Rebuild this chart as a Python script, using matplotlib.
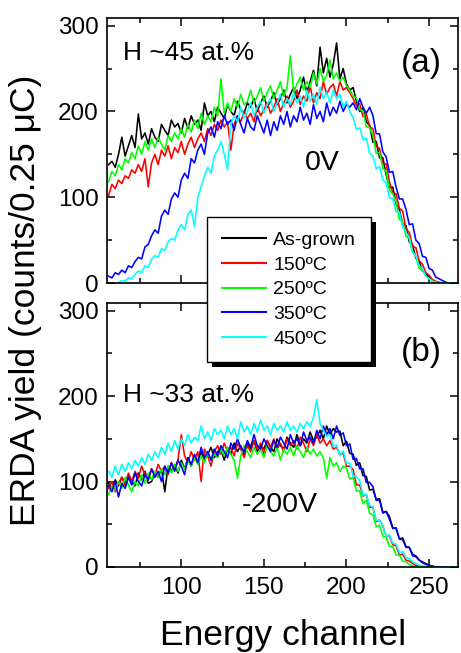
import numpy as np
import matplotlib
matplotlib.use('Agg')
import matplotlib.pyplot as plt
from matplotlib.ticker import MultipleLocator
from matplotlib.patches import Rectangle
from matplotlib.transforms import IdentityTransform

plt.rcParams['font.family'] = ['Liberation Sans', 'DejaVu Sans']

labels = ['As-grown', '150ºC', '250ºC', '350ºC', '450ºC']
colors = ['#000000', '#ff0000', '#00ff00', '#0000ff', '#00ffff']

# panel (a), 0V: counts every 2nd channel, first channel given in start_a
start_a = [56, 56, 56, 56, 62]
a_black = [138, 142, 135, 150, 170, 148, 160, 172, 158, 197, 168, 175, 162, 180, 170, 165, 185, 178, 172, 190,
           182, 186, 175, 192, 180, 195, 185, 190, 178, 210, 195, 200, 188, 205, 198, 192, 208, 200, 195, 212,
           202, 198, 210, 205, 215, 200, 210, 218, 205, 212, 222, 208, 215, 225, 210, 220, 228, 215, 225, 240,
           222, 235, 248, 230, 275, 245, 262, 240, 255, 280, 238, 250, 232, 225, 228, 212, 200, 204, 188, 184,
           164, 165, 146, 146, 126, 111, 112, 92, 86, 68, 67, 48, 44, 29, 25, 14, 11, 6, 3, 1,
           0, 0, 0, 0, 0, 0, 0]
a_150 = [102, 115, 110, 120, 116, 125, 122, 132, 128, 138, 130, 145, 112, 140, 150, 138, 155, 148, 160, 145,
         158, 152, 165, 150, 162, 170, 158, 168, 175, 165, 180, 172, 185, 178, 190, 182, 188, 155, 185, 195,
         188, 200, 192, 198, 188, 205, 195, 202, 210, 198, 205, 215, 200, 210, 218, 205, 212, 225, 208, 218,
         212, 230, 210, 222, 215, 235, 220, 228, 232, 218, 235, 225, 228, 222, 215, 207, 209, 194, 197, 182,
         180, 159, 157, 139, 139, 118, 105, 104, 87, 84, 63, 59, 43, 41, 26, 22, 12, 9, 4, 2,
         1, 0, 0, 0, 0, 0, 0]
a_250 = [118, 130, 125, 138, 132, 145, 140, 152, 145, 160, 150, 165, 155, 168, 158, 170, 162, 155, 172, 165,
         175, 168, 180, 170, 185, 176, 190, 180, 198, 185, 195, 188, 205, 195, 238, 198, 210, 200, 215, 205,
         220, 208, 212, 225, 210, 218, 228, 212, 222, 230, 215, 225, 235, 218, 228, 265, 222, 232, 240, 225,
         235, 228, 245, 232, 250, 235, 242, 260, 238, 245, 235, 240, 230, 225, 218, 216, 202, 201, 182, 181,
         172, 151, 152, 134, 130, 108, 104, 95, 74, 72, 54, 53, 36, 31, 17, 15, 8, 5, 2, 1,
         0, 0, 0, 0, 0, 0, 0]
a_350 = [8, 6, 12, 10, 15, 12, 20, 18, 25, 30, 28, 42, 45, 55, 62, 58, 78, 85, 80, 98,
         105, 100, 120, 128, 122, 145, 140, 155, 162, 150, 175, 182, 170, 188, 180, 195, 185, 190, 178, 195,
         185, 175, 192, 182, 178, 195, 185, 175, 190, 172, 188, 178, 195, 185, 200, 182, 195, 188, 205, 190,
         198, 185, 208, 192, 200, 188, 210, 195, 205, 198, 212, 200, 208, 205, 210, 202, 215, 205, 198, 205,
         195, 174, 174, 153, 147, 129, 130, 112, 98, 98, 86, 68, 69, 50, 46, 31, 30, 17, 15, 7,
         5, 3, 1, 0, 0, 0, 0]
a_450 = [0, 3, 2, 6, 5, 10, 14, 12, 20, 18, 28, 32, 30, 40, 38, 48, 52, 50, 62, 68,
         62, 80, 85, 66, 100, 112, 125, 135, 128, 148, 155, 165, 150, 132, 185, 195, 188, 205, 192, 200,
         210, 195, 205, 212, 198, 208, 215, 200, 210, 220, 205, 215, 208, 222, 210, 218, 205, 225, 212, 220,
         208, 228, 215, 222, 210, 225, 215, 220, 205, 212, 200, 193, 179, 181, 167, 169, 151, 148, 133, 136,
         120, 117, 99, 99, 83, 83, 65, 60, 52, 36, 32, 20, 17, 8, 5, 2, 1, 0, 0, 0,
         0, 0, 0, 0]

# panel (b), -200V
start_b = [56, 56, 56, 56, 56]
b_black = [98, 92, 102, 95, 105, 98, 108, 100, 95, 110, 102, 112, 98, 100, 110, 105, 115, 88, 118, 112,
           120, 110, 125, 115, 128, 118, 130, 122, 135, 125, 132, 140, 128, 135, 138, 125, 140, 132, 145, 135,
           142, 130, 145, 138, 148, 135, 142, 138, 148, 140, 135, 150, 142, 138, 152, 145, 140, 155, 142, 150,
           145, 158, 148, 152, 160, 150, 165, 155, 162, 158, 159, 142, 147, 133, 132, 119, 122, 107, 106, 90,
           91, 79, 80, 64, 65, 59, 46, 45, 33, 34, 24, 23, 15, 13, 8, 6, 4, 2, 1, 0,
           0, 0, 0, 0, 0, 0, 0]
b_150 = [92, 100, 88, 98, 105, 95, 110, 100, 112, 104, 118, 108, 102, 115, 108, 120, 112, 118, 108, 122,
         115, 125, 155, 130, 122, 135, 125, 135, 100, 138, 130, 118, 135, 142, 132, 145, 135, 140, 130, 145,
         138, 128, 142, 135, 148, 138, 145, 132, 148, 140, 150, 138, 145, 135, 150, 142, 148, 138, 152, 145,
         135, 150, 142, 155, 145, 150, 142, 148, 138, 140, 132, 133, 118, 118, 114, 96, 96, 83, 85, 70,
         70, 53, 55, 48, 36, 37, 26, 25, 14, 15, 8, 7, 4, 2, 1, 0, 0, 0, 0, 0,
         0, 0, 0, 0, 0, 0, 0]
b_250 = [85, 95, 90, 100, 92, 105, 96, 88, 100, 95, 108, 98, 110, 102, 112, 105, 115, 108, 118, 110,
         120, 112, 122, 115, 125, 118, 128, 120, 130, 122, 135, 125, 132, 128, 138, 130, 140, 132, 125, 104,
         130, 142, 135, 128, 140, 132, 138, 128, 142, 135, 130, 140, 125, 138, 132, 140, 130, 142, 135, 128,
         140, 132, 138, 130, 135, 128, 104, 128, 118, 122, 112, 118, 116, 103, 105, 89, 89, 74, 78, 63,
         61, 47, 49, 36, 35, 24, 24, 14, 14, 7, 6, 3, 1, 0, 0, 0, 0, 0, 0, 0,
         0, 0, 0, 0, 0, 0, 0]
b_350 = [95, 88, 100, 82, 98, 92, 105, 96, 110, 100, 95, 108, 102, 115, 105, 112, 100, 118, 110, 122,
         112, 125, 118, 108, 128, 120, 132, 122, 140, 128, 135, 125, 138, 130, 142, 135, 128, 145, 138, 150,
         140, 135, 148, 140, 155, 142, 138, 150, 142, 135, 148, 140, 152, 145, 138, 155, 145, 150, 142, 158,
         148, 152, 145, 160, 150, 165, 155, 162, 150, 165, 154, 157, 142, 144, 126, 127, 115, 115, 99, 99,
         94, 78, 78, 63, 65, 56, 45, 46, 33, 32, 23, 23, 13, 12, 8, 5, 3, 2, 1, 0,
         0, 0, 0, 0, 0, 0, 0]
b_450 = [112, 105, 118, 108, 120, 112, 122, 115, 125, 118, 128, 120, 132, 125, 135, 128, 140, 132, 145, 135,
         148, 138, 150, 142, 155, 145, 152, 148, 165, 150, 158, 148, 162, 155, 160, 150, 165, 155, 162, 150,
         170, 158, 165, 155, 168, 158, 172, 160, 165, 155, 168, 160, 165, 158, 170, 160, 165, 158, 168, 162,
         170, 165, 175, 196, 168, 160, 153, 155, 141, 143, 130, 136, 121, 122, 106, 106, 101, 84, 85, 72,
         70, 54, 55, 48, 36, 38, 28, 27, 17, 18, 11, 10, 6, 4, 2, 1, 0, 0, 0, 0,
         0, 0, 0, 0, 0, 0, 0]

series_a = [a_black, a_150, a_250, a_350, a_450]
series_b = [b_black, b_150, b_250, b_350, b_450]

fig = plt.figure(figsize=(4.61, 6.53), dpi=100)
ax1 = fig.add_axes([0.232, 0.5666, 0.7615, 0.4058])
ax2 = fig.add_axes([0.232, 0.1317, 0.7615, 0.4043], sharex=ax1)

for ax, series, starts in [(ax1, series_a, start_a), (ax2, series_b, start_b)]:
    for vals, s, c, lab in zip(series, starts, colors, labels):
        ch = s + 2 * np.arange(len(vals))
        ax.plot(ch, vals, color=c, lw=1.15, label=lab)
    ax.set_ylim(0, 309)
    ax.xaxis.set_major_locator(MultipleLocator(50))
    ax.xaxis.set_minor_locator(MultipleLocator(25))
    ax.yaxis.set_major_locator(MultipleLocator(100))
    ax.yaxis.set_minor_locator(MultipleLocator(50))
    ax.tick_params(which='both', direction='in', top=True, right=True, width=1.1, labelsize=17.5)
    ax.tick_params(which='major', length=6)
    ax.tick_params(which='minor', length=3.5)
    ax.tick_params(axis='y', pad=6)
    ax.tick_params(axis='x', pad=7)
    for sp in ax.spines.values():
        sp.set_linewidth(1.2)

ax1.set_xlim(55, 267.5)
ax1.tick_params(labelbottom=False)

ax1.text(0.046, 0.868, 'H ~45 at.%', transform=ax1.transAxes, fontsize=19, ha='left', va='center')
ax1.text(0.897, 0.83, '(a)', transform=ax1.transAxes, fontsize=24, ha='center', va='center')
ax1.text(0.613, 0.453, '0V', transform=ax1.transAxes, fontsize=20.5, ha='center', va='center')
ax2.text(0.046, 0.652, 'H ~33 at.%', transform=ax2.transAxes, fontsize=19, ha='left', va='center')
ax2.text(0.897, 0.814, '(b)', transform=ax2.transAxes, fontsize=24, ha='center', va='center')
ax2.text(0.493, 0.235, '-200V', transform=ax2.transAxes, fontsize=20.5, ha='center', va='center')

fig.text(26 / 461, 1 - 300 / 653, 'ERDA yield (counts/0.25 μC)', rotation=90,
         fontsize=25.5, ha='center', va='center')
fig.text(283 / 461, 1 - 635 / 653, 'Energy channel', fontsize=25.5, ha='center', va='center')

handles, labs = ax1.get_legend_handles_labels()
leg = fig.legend(handles, labs, loc='upper left', bbox_to_anchor=(207 / 461, 1 - 217 / 653),
                 fontsize=14, frameon=True, fancybox=False, edgecolor='black', framealpha=1,
                 handlelength=2.3, handletextpad=0.35, labelspacing=0.36, borderpad=0.75,
                 borderaxespad=0)
leg.get_frame().set_linewidth(1.0)
for line in leg.get_lines():
    line.set_linewidth(1.5)

# drop shadow of the legend box
fig.canvas.draw()
bb = leg.get_frame().get_window_extent()
shadow = Rectangle((bb.x0 + 5, bb.y0 - 5), bb.width, bb.height, transform=IdentityTransform(),
                   facecolor='black', edgecolor='none', zorder=leg.get_zorder() - 0.1)
fig.add_artist(shadow)

fig.savefig('out.png', dpi=100)
